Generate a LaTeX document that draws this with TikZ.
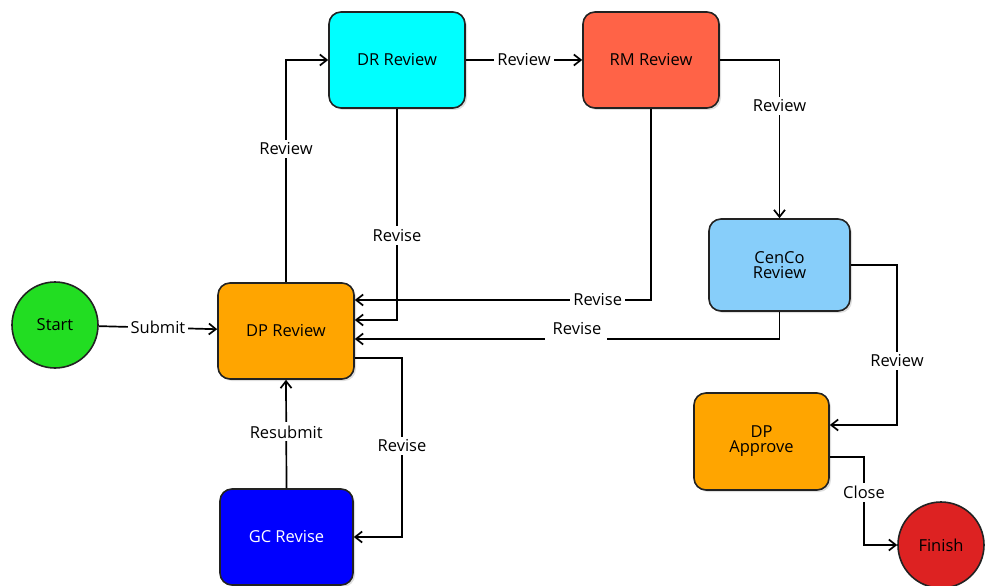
\documentclass[tikz,border=0pt]{standalone}
\usepackage{fontspec}
\setmainfont{Open Sans}
\usetikzlibrary{arrows.meta,shadows}
\definecolor{cgreen}{HTML}{22DD22}
\definecolor{corange}{HTML}{FFA500}
\definecolor{ccyan}{HTML}{00FFFF}
\definecolor{ctomato}{HTML}{FF6347}
\definecolor{csky}{HTML}{87CEFA}
\definecolor{cblue}{HTML}{0000FF}
\definecolor{cred}{HTML}{DD2222}
\definecolor{cborder}{HTML}{222222}
\begin{document}
\begin{tikzpicture}[x=1pt,y=-1pt,
  font=\fontsize{16.5}{19}\selectfont,
  stepbox/.style={draw=cborder,line width=1.6pt,rounded corners=12pt,align=center,
    drop shadow={shadow xshift=2pt,shadow yshift=-2pt,opacity=0.25}},
  endpt/.style={circle,draw=cborder,line width=1.6pt,minimum size=86pt,inner sep=0pt},
  conn/.style={line width=1.7pt,-{Straight Barb[length=7pt,width=11pt,line width=1.7pt]}},
  lbl/.style={fill=white,inner sep=3pt,text=black},
  gap/.style={fill=white,inner sep=0pt,minimum width=62pt,minimum height=10pt}
]
\useasboundingbox (0,0) rectangle (989,586);
% nodes
\node[endpt,fill=cgreen] (start) at (55,325) {Start};
\node[endpt,fill=cred] (finish) at (941,545) {Finish};
\node[stepbox,fill=corange,minimum width=136pt,minimum height=96pt] (dp) at (286,331) {DP Review};
\node[stepbox,fill=ccyan,minimum width=136pt,minimum height=96pt] (dr) at (397,60) {DR Review};
\node[stepbox,fill=ctomato,minimum width=136pt,minimum height=96pt] (rm) at (651,60) {RM Review};
\node[stepbox,fill=csky,minimum width=141pt,minimum height=92pt] (cenco) at (779.5,265) {CenCo\\[-4pt]Review};
\node[stepbox,fill=corange,minimum width=135pt,minimum height=97pt] (dpa) at (761.5,441.5) {DP\\[-4pt]Approve};
\node[stepbox,fill=cblue,text=white,minimum width=133pt,minimum height=96pt] (gc) at (286.5,537) {GC Revise};
% connectors
\draw[conn] (start) -- node[lbl,pos=0.5] {Submit} (dp);
\draw[conn] (dp.north) |- node[lbl,pos=0.30] {Review} (dr.west);
\draw[conn] (dr) -- node[lbl,pos=0.5] {Review} (rm);
\draw[conn] (rm.east) -| node[lbl,pos=0.645] {Review} (cenco.north);
\draw[conn] (rm.south) |- node[lbl,pos=0.59] {Revise} (dp.east |- 0,300);
\draw[conn] (dr.south) |- node[lbl,pos=0.30] {Revise} (dp.east |- 0,320);
\draw[conn] (cenco.south) |- node[gap,pos=0.74] {} (dp.east |- 0,339);
\node[lbl] (revlbl) at (577,329) {Revise};
\draw[conn] (dp.east |- 0,358) -| (402,537) node[lbl,pos=0.745] {Revise} -- (gc.east |- 0,537);
\draw[conn] (gc.north) -- node[lbl,pos=0.52] {Resubmit} (dp.south);
\draw[conn] (cenco.east) -| (897,425) node[lbl,pos=0.80] {Review} -- (dpa.east |- 0,425);
\draw[conn] (dpa.east |- 0,457) -| (864,545) node[lbl,pos=0.70] {Close} -- (finish.west);
\end{tikzpicture}
\end{document}
